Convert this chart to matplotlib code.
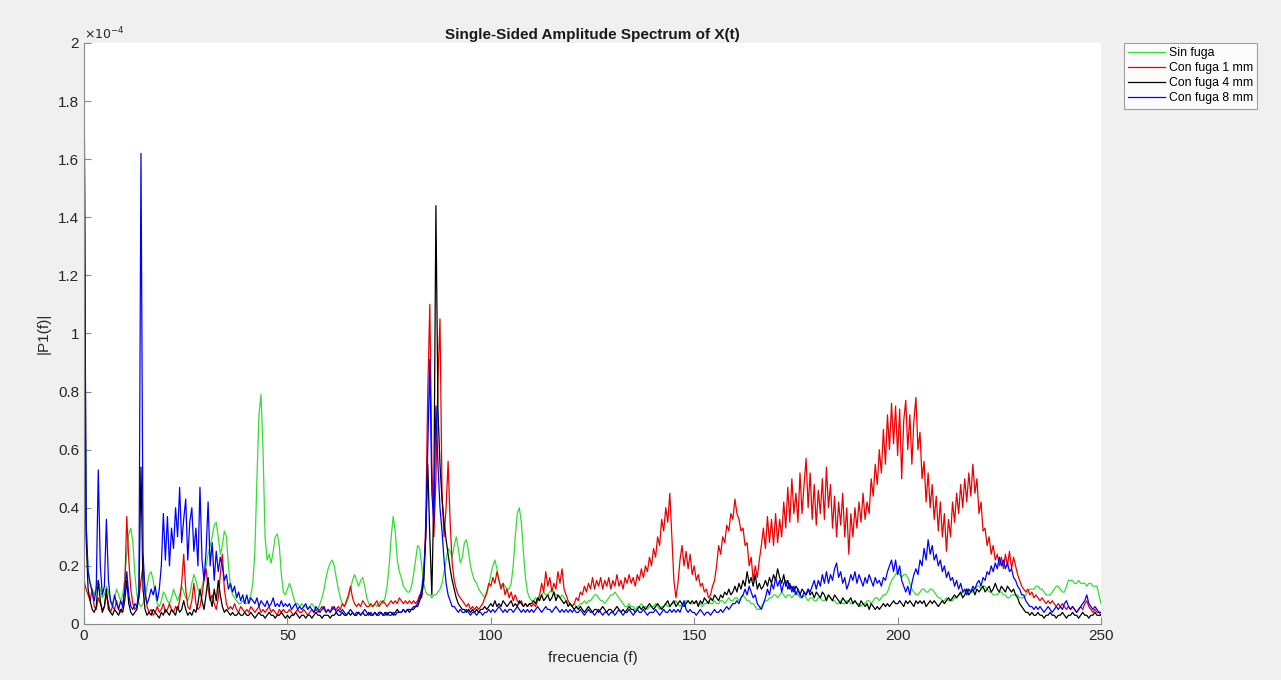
import numpy as np
import matplotlib.pyplot as plt
from matplotlib.ticker import FuncFormatter

plt.rcParams['font.family'] = ['Liberation Sans', 'DejaVu Sans']

### Amplitudes in units of 1e-4, sampled every 0.5 Hz from 0 to 250 Hz (one row = 10 Hz)
sin_fuga = [
    1.2, 0.35, 0.18, 0.14, 0.12, 0.1, 0.13, 0.15, 0.12, 0.09, 0.1, 0.13, 0.11, 0.08, 0.07, 0.09, 0.12, 0.1, 0.08, 0.1,
    0.16, 0.24, 0.31, 0.33, 0.28, 0.17, 0.1, 0.07, 0.06, 0.07, 0.09, 0.13, 0.17, 0.18, 0.15, 0.1, 0.07, 0.06, 0.08, 0.11,
    0.1, 0.08, 0.07, 0.09, 0.12, 0.1, 0.08, 0.1, 0.13, 0.11, 0.09, 0.08, 0.1, 0.14, 0.17, 0.15, 0.12, 0.1, 0.13, 0.16,
    0.2, 0.24, 0.27, 0.3, 0.34, 0.35, 0.3, 0.24, 0.27, 0.32, 0.3, 0.2, 0.13, 0.1, 0.09, 0.08, 0.07, 0.07, 0.08, 0.07,
    0.07, 0.08, 0.1, 0.14, 0.25, 0.5, 0.72, 0.79, 0.6, 0.3, 0.22, 0.24, 0.21, 0.25, 0.3, 0.31, 0.27, 0.17, 0.11, 0.1,
    0.12, 0.14, 0.12, 0.09, 0.07, 0.07, 0.06, 0.07, 0.06, 0.06, 0.05, 0.06, 0.07, 0.06, 0.05, 0.05, 0.07, 0.09, 0.12, 0.16,
    0.19, 0.21, 0.22, 0.2, 0.16, 0.12, 0.09, 0.07, 0.06, 0.07, 0.09, 0.12, 0.15, 0.17, 0.15, 0.13, 0.15, 0.16, 0.13, 0.09,
    0.07, 0.06, 0.06, 0.07, 0.06, 0.07, 0.08, 0.07, 0.09, 0.13, 0.2, 0.3, 0.37, 0.32, 0.22, 0.18, 0.16, 0.13, 0.12, 0.11,
    0.11, 0.13, 0.17, 0.22, 0.27, 0.26, 0.2, 0.14, 0.11, 0.1, 0.1, 0.09, 0.1, 0.1, 0.11, 0.12, 0.14, 0.18, 0.22, 0.26,
    0.25, 0.23, 0.27, 0.3, 0.26, 0.21, 0.23, 0.28, 0.29, 0.25, 0.2, 0.17, 0.15, 0.14, 0.12, 0.11, 0.1, 0.09, 0.1, 0.13,
    0.17, 0.2, 0.22, 0.19, 0.15, 0.13, 0.14, 0.13, 0.12, 0.12, 0.14, 0.2, 0.3, 0.38, 0.4, 0.35, 0.25, 0.16, 0.11, 0.09,
    0.08, 0.08, 0.09, 0.08, 0.09, 0.1, 0.11, 0.1, 0.1, 0.11, 0.12, 0.11, 0.1, 0.1, 0.09, 0.1, 0.09, 0.08, 0.07, 0.07,
    0.06, 0.07, 0.06, 0.06, 0.07, 0.07, 0.08, 0.07, 0.08, 0.08, 0.09, 0.1, 0.1, 0.09, 0.08, 0.08, 0.07, 0.08, 0.09, 0.1,
    0.1, 0.11, 0.1, 0.09, 0.08, 0.07, 0.06, 0.06, 0.07, 0.06, 0.06, 0.05, 0.06, 0.06, 0.07, 0.06, 0.06, 0.05, 0.06, 0.06,
    0.06, 0.07, 0.06, 0.05, 0.06, 0.06, 0.07, 0.06, 0.06, 0.07, 0.07, 0.08, 0.07, 0.06, 0.07, 0.07, 0.08, 0.08, 0.07, 0.07,
    0.07, 0.08, 0.07, 0.07, 0.06, 0.07, 0.07, 0.08, 0.07, 0.07, 0.08, 0.07, 0.07, 0.08, 0.08, 0.07, 0.08, 0.09, 0.08, 0.08,
    0.09, 0.09, 0.08, 0.09, 0.1, 0.09, 0.08, 0.08, 0.07, 0.07, 0.06, 0.05, 0.05, 0.06, 0.07, 0.08, 0.08, 0.09, 0.09, 0.1,
    0.1, 0.09, 0.1, 0.11, 0.1, 0.09, 0.1, 0.1, 0.09, 0.1, 0.11, 0.1, 0.09, 0.09, 0.1, 0.09, 0.08, 0.09, 0.09, 0.08,
    0.08, 0.09, 0.09, 0.08, 0.08, 0.09, 0.1, 0.09, 0.08, 0.08, 0.07, 0.07, 0.08, 0.07, 0.07, 0.08, 0.08, 0.07, 0.07, 0.08,
    0.07, 0.07, 0.06, 0.07, 0.07, 0.08, 0.08, 0.07, 0.08, 0.09, 0.09, 0.08, 0.09, 0.1, 0.1, 0.11, 0.13, 0.15, 0.16, 0.17,
    0.18, 0.17, 0.16, 0.17, 0.17, 0.16, 0.14, 0.12, 0.11, 0.1, 0.1, 0.11, 0.12, 0.12, 0.11, 0.11, 0.12, 0.12, 0.11, 0.1,
    0.09, 0.09, 0.08, 0.08, 0.09, 0.08, 0.08, 0.08, 0.09, 0.09, 0.1, 0.1, 0.11, 0.11, 0.12, 0.12, 0.11, 0.11, 0.12, 0.13,
    0.13, 0.12, 0.13, 0.13, 0.12, 0.11, 0.11, 0.1, 0.1, 0.1, 0.11, 0.11, 0.1, 0.1, 0.09, 0.09, 0.1, 0.1, 0.1, 0.1,
    0.09, 0.09, 0.09, 0.1, 0.11, 0.12, 0.12, 0.12, 0.13, 0.13, 0.12, 0.12, 0.11, 0.1, 0.1, 0.1, 0.11, 0.12, 0.13, 0.13,
    0.12, 0.11, 0.11, 0.13, 0.15, 0.15, 0.15, 0.14, 0.14, 0.15, 0.14, 0.14, 0.14, 0.13, 0.14, 0.14, 0.13, 0.13, 0.13, 0.1,
    0.07,
]

fuga_1mm = [
    0.15, 0.12, 0.1, 0.08, 0.12, 0.06, 0.05, 0.09, 0.07, 0.05, 0.06, 0.1, 0.07, 0.04, 0.06, 0.05, 0.08, 0.05, 0.04, 0.06,
    0.12, 0.37, 0.22, 0.12, 0.07, 0.05, 0.06, 0.09, 0.15, 0.2, 0.12, 0.06, 0.04, 0.05, 0.03, 0.04, 0.06, 0.04, 0.05, 0.07,
    0.04, 0.05, 0.07, 0.05, 0.04, 0.06, 0.05, 0.08, 0.14, 0.24, 0.12, 0.06, 0.05, 0.08, 0.14, 0.07, 0.05, 0.06, 0.1, 0.15,
    0.19, 0.12, 0.08, 0.1, 0.07, 0.05, 0.09, 0.17, 0.24, 0.12, 0.07, 0.05, 0.06, 0.05, 0.07, 0.05, 0.04, 0.06, 0.05, 0.04,
    0.05, 0.04, 0.06, 0.05, 0.04, 0.05, 0.06, 0.04, 0.05, 0.04, 0.05, 0.06, 0.04, 0.05, 0.04, 0.03, 0.05, 0.04, 0.05, 0.04,
    0.04, 0.05, 0.04, 0.03, 0.04, 0.05, 0.04, 0.04, 0.05, 0.04, 0.03, 0.04, 0.05, 0.04, 0.05, 0.04, 0.05, 0.06, 0.05, 0.04,
    0.05, 0.04, 0.06, 0.05, 0.05, 0.06, 0.05, 0.07, 0.06, 0.08, 0.1, 0.13, 0.09, 0.07, 0.06, 0.07, 0.06, 0.08, 0.07, 0.06,
    0.06, 0.07, 0.06, 0.07, 0.08, 0.06, 0.07, 0.08, 0.07, 0.06, 0.07, 0.08, 0.07, 0.08, 0.07, 0.09, 0.08, 0.07, 0.08, 0.07,
    0.08, 0.07, 0.08, 0.07, 0.08, 0.1, 0.09, 0.15, 0.35, 0.8, 1.1, 0.55, 0.3, 0.5, 0.84, 1.05, 0.45, 0.3, 0.4, 0.56,
    0.35, 0.21, 0.15, 0.12, 0.1, 0.09, 0.08, 0.07, 0.06, 0.07, 0.05, 0.06, 0.05, 0.06, 0.05, 0.06, 0.07, 0.09, 0.11, 0.14,
    0.13, 0.16, 0.14, 0.18, 0.15, 0.12, 0.14, 0.1, 0.12, 0.09, 0.11, 0.08, 0.1, 0.08, 0.07, 0.08, 0.06, 0.07, 0.06, 0.07,
    0.06, 0.07, 0.06, 0.08, 0.1, 0.14, 0.11, 0.18, 0.13, 0.16, 0.11, 0.14, 0.12, 0.18, 0.14, 0.19, 0.12, 0.1, 0.08, 0.07,
    0.06, 0.07, 0.09, 0.08, 0.11, 0.1, 0.13, 0.11, 0.14, 0.12, 0.16, 0.12, 0.15, 0.13, 0.16, 0.12, 0.15, 0.13, 0.16, 0.12,
    0.15, 0.13, 0.17, 0.13, 0.15, 0.12, 0.16, 0.14, 0.17, 0.14, 0.16, 0.13, 0.17, 0.15, 0.19, 0.16, 0.2, 0.18, 0.23, 0.2,
    0.26, 0.23, 0.3, 0.27, 0.36, 0.32, 0.4, 0.35, 0.45, 0.3, 0.15, 0.09, 0.14, 0.22, 0.27, 0.2, 0.25, 0.19, 0.24, 0.17,
    0.2, 0.15, 0.17, 0.13, 0.14, 0.11, 0.12, 0.09, 0.1, 0.13, 0.15, 0.2, 0.27, 0.24, 0.3, 0.28, 0.34, 0.32, 0.38, 0.36,
    0.43, 0.38, 0.36, 0.32, 0.33, 0.27, 0.28, 0.2, 0.23, 0.15, 0.2, 0.16, 0.22, 0.27, 0.33, 0.26, 0.37, 0.28, 0.36, 0.27,
    0.38, 0.28, 0.36, 0.3, 0.42, 0.33, 0.47, 0.35, 0.5, 0.38, 0.45, 0.35, 0.52, 0.38, 0.48, 0.57, 0.4, 0.52, 0.36, 0.48,
    0.34, 0.46, 0.38, 0.5, 0.36, 0.54, 0.4, 0.48, 0.33, 0.44, 0.3, 0.42, 0.34, 0.45, 0.3, 0.4, 0.24, 0.38, 0.3, 0.4,
    0.33, 0.42, 0.35, 0.45, 0.36, 0.42, 0.38, 0.5, 0.44, 0.55, 0.48, 0.6, 0.52, 0.67, 0.55, 0.72, 0.6, 0.76, 0.62, 0.75,
    0.58, 0.74, 0.5, 0.7, 0.77, 0.6, 0.72, 0.55, 0.7, 0.78, 0.6, 0.66, 0.5, 0.56, 0.42, 0.52, 0.4, 0.48, 0.36, 0.44,
    0.32, 0.42, 0.3, 0.38, 0.25, 0.36, 0.3, 0.42, 0.35, 0.45, 0.38, 0.48, 0.4, 0.5, 0.42, 0.52, 0.44, 0.55, 0.45, 0.5,
    0.38, 0.42, 0.32, 0.33, 0.27, 0.3, 0.24, 0.27, 0.22, 0.24, 0.2, 0.23, 0.19, 0.24, 0.2, 0.25, 0.19, 0.23, 0.2, 0.17,
    0.15, 0.13, 0.12, 0.11, 0.12, 0.1, 0.11, 0.09, 0.1, 0.09, 0.08, 0.09, 0.08, 0.07, 0.08, 0.07, 0.08, 0.07, 0.06, 0.07,
    0.06, 0.07, 0.06, 0.05, 0.06, 0.05, 0.06, 0.05, 0.04, 0.05, 0.06, 0.05, 0.07, 0.08, 0.06, 0.05, 0.04, 0.05, 0.04, 0.04,
    0.03,
]

fuga_4mm = [
    2.0, 0.3, 0.12, 0.08, 0.05, 0.04, 0.06, 0.15, 0.08, 0.04, 0.06, 0.12, 0.05, 0.04, 0.03, 0.05, 0.04, 0.03, 0.05, 0.04,
    0.08, 0.15, 0.07, 0.04, 0.03, 0.04, 0.05, 0.1, 0.54, 0.12, 0.05, 0.03, 0.04, 0.03, 0.05, 0.04, 0.03, 0.02, 0.04, 0.03,
    0.05, 0.04, 0.03, 0.05, 0.04, 0.03, 0.06, 0.04, 0.05, 0.08, 0.05, 0.03, 0.04, 0.03, 0.05, 0.04, 0.07, 0.12, 0.08, 0.05,
    0.1, 0.16, 0.09, 0.06, 0.12, 0.08, 0.15, 0.1, 0.06, 0.04, 0.05, 0.04, 0.03, 0.04, 0.03, 0.03, 0.04, 0.03, 0.03, 0.04,
    0.03, 0.03, 0.04, 0.03, 0.02, 0.03, 0.04, 0.03, 0.03, 0.02, 0.03, 0.04, 0.03, 0.03, 0.02, 0.03, 0.03, 0.04, 0.03, 0.02,
    0.03, 0.02, 0.03, 0.03, 0.04, 0.03, 0.02, 0.03, 0.03, 0.02, 0.03, 0.03, 0.02, 0.03, 0.04, 0.03, 0.03, 0.02, 0.03, 0.03,
    0.03, 0.02, 0.03, 0.03, 0.04, 0.03, 0.03, 0.04, 0.03, 0.03, 0.04, 0.03, 0.04, 0.03, 0.03, 0.04, 0.03, 0.04, 0.03, 0.03,
    0.04, 0.03, 0.03, 0.04, 0.03, 0.04, 0.04, 0.03, 0.04, 0.03, 0.04, 0.04, 0.03, 0.04, 0.05, 0.04, 0.04, 0.05, 0.04, 0.05,
    0.04, 0.05, 0.05, 0.06, 0.06, 0.08, 0.1, 0.15, 0.3, 0.55, 0.3, 0.1, 0.45, 1.44, 0.74, 0.55, 0.43, 0.35, 0.29, 0.24,
    0.19, 0.15, 0.12, 0.09, 0.07, 0.06, 0.05, 0.05, 0.04, 0.05, 0.04, 0.05, 0.04, 0.05, 0.04, 0.05, 0.05, 0.06, 0.05, 0.06,
    0.07, 0.06, 0.08, 0.06, 0.07, 0.06, 0.08, 0.07, 0.06, 0.07, 0.08, 0.06, 0.07, 0.06, 0.08, 0.07, 0.06, 0.07, 0.06, 0.07,
    0.07, 0.08, 0.07, 0.09, 0.08, 0.1, 0.08, 0.09, 0.1, 0.08, 0.09, 0.11, 0.08, 0.1, 0.09, 0.08, 0.07, 0.08, 0.06, 0.07,
    0.06, 0.05, 0.06, 0.05, 0.06, 0.05, 0.04, 0.05, 0.06, 0.05, 0.04, 0.05, 0.05, 0.04, 0.05, 0.06, 0.05, 0.04, 0.05, 0.05,
    0.04, 0.05, 0.06, 0.05, 0.04, 0.05, 0.04, 0.05, 0.06, 0.05, 0.05, 0.04, 0.05, 0.06, 0.05, 0.06, 0.05, 0.06, 0.07, 0.06,
    0.05, 0.06, 0.07, 0.06, 0.05, 0.06, 0.07, 0.08, 0.06, 0.07, 0.08, 0.06, 0.07, 0.08, 0.07, 0.06, 0.07, 0.08, 0.07, 0.08,
    0.07, 0.08, 0.06, 0.08, 0.07, 0.09, 0.08, 0.07, 0.09, 0.08, 0.1, 0.09, 0.08, 0.1, 0.09, 0.11, 0.1, 0.12, 0.1, 0.11,
    0.13, 0.11, 0.14, 0.12, 0.15, 0.13, 0.18, 0.14, 0.16, 0.13, 0.17, 0.12, 0.14, 0.12, 0.13, 0.15, 0.13, 0.16, 0.14, 0.17,
    0.15, 0.19, 0.16, 0.14, 0.17, 0.13, 0.15, 0.12, 0.13, 0.11, 0.13, 0.12, 0.1, 0.12, 0.11, 0.1, 0.12, 0.1, 0.11, 0.09,
    0.11, 0.1, 0.09, 0.11, 0.1, 0.08, 0.1, 0.09, 0.08, 0.1, 0.09, 0.08, 0.07, 0.09, 0.08, 0.07, 0.08, 0.09, 0.07, 0.08,
    0.07, 0.06, 0.08, 0.07, 0.06, 0.07, 0.05, 0.07, 0.06, 0.05, 0.06, 0.05, 0.06, 0.07, 0.06, 0.07, 0.06, 0.07, 0.08, 0.07,
    0.07, 0.08, 0.07, 0.06, 0.08, 0.07, 0.08, 0.07, 0.06, 0.08, 0.07, 0.08, 0.07, 0.08, 0.06, 0.07, 0.08, 0.07, 0.08, 0.07,
    0.06, 0.07, 0.08, 0.07, 0.08, 0.09, 0.08, 0.09, 0.1, 0.09, 0.1, 0.11, 0.09, 0.1, 0.12, 0.1, 0.11, 0.12, 0.1, 0.12,
    0.11, 0.12, 0.13, 0.11, 0.12, 0.13, 0.11, 0.12, 0.14, 0.12, 0.11, 0.13, 0.12, 0.11, 0.13, 0.12, 0.11, 0.12, 0.1, 0.09,
    0.07, 0.06, 0.05, 0.04, 0.04, 0.03, 0.04, 0.03, 0.03, 0.04, 0.03, 0.03, 0.02, 0.03, 0.03, 0.04, 0.03, 0.03, 0.02, 0.03,
    0.03, 0.04, 0.03, 0.02, 0.03, 0.03, 0.04, 0.03, 0.03, 0.02, 0.03, 0.04, 0.03, 0.03, 0.02, 0.03, 0.03, 0.04, 0.03, 0.03,
    0.03,
]

fuga_8mm = [
    1.86, 0.35, 0.18, 0.14, 0.11, 0.08, 0.12, 0.53, 0.2, 0.1, 0.13, 0.36, 0.15, 0.08, 0.06, 0.1, 0.07, 0.05, 0.08, 0.06,
    0.12, 0.18, 0.1, 0.06, 0.05, 0.07, 0.06, 0.12, 1.62, 0.25, 0.1, 0.07, 0.09, 0.12, 0.1, 0.13, 0.08, 0.12, 0.2, 0.38,
    0.22, 0.37, 0.2, 0.33, 0.26, 0.4, 0.3, 0.47, 0.28, 0.36, 0.43, 0.22, 0.35, 0.4, 0.25, 0.33, 0.2, 0.47, 0.22, 0.15,
    0.25, 0.42, 0.2, 0.28, 0.15, 0.25, 0.18, 0.23, 0.2, 0.15, 0.17, 0.12, 0.14, 0.11, 0.13, 0.09, 0.11, 0.08, 0.1, 0.07,
    0.1, 0.07, 0.09, 0.08, 0.07, 0.09, 0.06, 0.08, 0.07, 0.06, 0.08, 0.06, 0.07, 0.09, 0.06, 0.07, 0.06, 0.08, 0.06, 0.07,
    0.06, 0.07, 0.05, 0.06, 0.07, 0.05, 0.06, 0.05, 0.06, 0.07, 0.05, 0.06, 0.05, 0.04, 0.06, 0.05, 0.04, 0.05, 0.06, 0.04,
    0.05, 0.04, 0.05, 0.06, 0.04, 0.05, 0.04, 0.05, 0.04, 0.03, 0.04, 0.05, 0.04, 0.03, 0.04, 0.04, 0.03, 0.04, 0.05, 0.04,
    0.03, 0.04, 0.03, 0.04, 0.03, 0.03, 0.04, 0.03, 0.03, 0.04, 0.03, 0.03, 0.04, 0.03, 0.04, 0.04, 0.04, 0.05, 0.04, 0.05,
    0.05, 0.05, 0.06, 0.06, 0.07, 0.09, 0.12, 0.18, 0.3, 0.6, 0.91, 0.45, 0.35, 0.75, 0.55, 0.4, 0.32, 0.22, 0.14, 0.1,
    0.08, 0.06, 0.06, 0.05, 0.04, 0.05, 0.04, 0.04, 0.05, 0.04, 0.03, 0.04, 0.04, 0.03, 0.04, 0.04, 0.03, 0.04, 0.04, 0.05,
    0.04, 0.05, 0.04, 0.05, 0.06, 0.05, 0.04, 0.05, 0.04, 0.05, 0.05, 0.04, 0.05, 0.06, 0.05, 0.04, 0.05, 0.04, 0.05, 0.04,
    0.05, 0.04, 0.05, 0.06, 0.05, 0.04, 0.05, 0.06, 0.05, 0.05, 0.04, 0.05, 0.06, 0.05, 0.04, 0.05, 0.04, 0.05, 0.04, 0.05,
    0.04, 0.05, 0.04, 0.04, 0.05, 0.04, 0.03, 0.04, 0.05, 0.04, 0.04, 0.03, 0.04, 0.05, 0.04, 0.03, 0.04, 0.04, 0.03, 0.04,
    0.04, 0.03, 0.04, 0.05, 0.04, 0.03, 0.04, 0.04, 0.05, 0.04, 0.03, 0.04, 0.05, 0.04, 0.04, 0.05, 0.04, 0.03, 0.04, 0.04,
    0.04, 0.05, 0.04, 0.03, 0.04, 0.05, 0.04, 0.04, 0.05, 0.04, 0.05, 0.04, 0.05, 0.04, 0.06, 0.08, 0.05, 0.04, 0.05, 0.04,
    0.04, 0.03, 0.04, 0.05, 0.04, 0.03, 0.04, 0.04, 0.03, 0.04, 0.05, 0.04, 0.04, 0.05, 0.04, 0.05, 0.06, 0.05, 0.06, 0.07,
    0.07, 0.08, 0.07, 0.09, 0.1, 0.12, 0.1, 0.13, 0.11, 0.09, 0.1, 0.07, 0.06, 0.05, 0.07, 0.09, 0.12, 0.1, 0.14, 0.12,
    0.16, 0.13, 0.15, 0.11, 0.14, 0.15, 0.12, 0.14, 0.11, 0.13, 0.1, 0.12, 0.1, 0.09, 0.11, 0.1, 0.12, 0.11, 0.13, 0.15,
    0.12, 0.15, 0.13, 0.17, 0.14, 0.18, 0.14, 0.17, 0.15, 0.19, 0.21, 0.16, 0.18, 0.14, 0.16, 0.12, 0.14, 0.17, 0.15, 0.18,
    0.14, 0.17, 0.15, 0.13, 0.16, 0.14, 0.17, 0.15, 0.13, 0.16, 0.14, 0.15, 0.13, 0.16, 0.15, 0.18, 0.2, 0.22, 0.18, 0.22,
    0.17, 0.2, 0.15, 0.13, 0.11, 0.13, 0.1, 0.14, 0.17, 0.19, 0.17, 0.22, 0.2, 0.26, 0.22, 0.29, 0.24, 0.27, 0.22, 0.24,
    0.2, 0.22, 0.18, 0.2, 0.16, 0.18, 0.15, 0.16, 0.13, 0.15, 0.12, 0.14, 0.11, 0.12, 0.1, 0.12, 0.11, 0.13, 0.12, 0.14,
    0.15, 0.13, 0.16, 0.15, 0.18, 0.17, 0.2, 0.18, 0.21, 0.19, 0.23, 0.2, 0.22, 0.19, 0.21, 0.18, 0.19, 0.16, 0.15, 0.13,
    0.12, 0.1, 0.1, 0.08, 0.07, 0.06, 0.06, 0.05, 0.06, 0.05, 0.06, 0.05, 0.04, 0.05, 0.06, 0.05, 0.04, 0.05, 0.06, 0.05,
    0.06, 0.05, 0.07, 0.08, 0.06, 0.05, 0.06, 0.05, 0.04, 0.05, 0.06, 0.07, 0.08, 0.1, 0.07, 0.06, 0.05, 0.06, 0.05, 0.04,
    0.04,
]

series_labels = ['Sin fuga', 'Con fuga 1 mm', 'Con fuga 4 mm', 'Con fuga 8 mm']
series_colors = ['#33dd33', '#ee0000', '#000000', '#0000ff']

freq = np.arange(0, 250.5, 0.5)

fig = plt.figure(figsize=(12.81, 6.8), dpi=100, facecolor='#f0f0f0')
ax = fig.add_axes([0.0656, 0.0824, 0.7939, 0.8544])

for vals, lab, col in zip([sin_fuga, fuga_1mm, fuga_4mm, fuga_8mm], series_labels, series_colors):
    ax.plot(freq, vals, color=col, linewidth=0.9, label=lab)

ax.set_xlim(0, 250)
ax.set_ylim(0, 2)
ax.set_xticks([0, 50, 100, 150, 200, 250])
ax.set_yticks(np.arange(0, 2.01, 0.2))
ax.yaxis.set_major_formatter(FuncFormatter(lambda v, p: '%g' % round(v, 1)))

### MATLAB look: box off, ticks inside, grey axes
for side in ['top', 'right']:
    ax.spines[side].set_visible(False)
for side in ['left', 'bottom']:
    ax.spines[side].set_color('#8a8a8a')
ax.tick_params(direction='in', length=5, color='#8a8a8a', labelcolor='#262626', labelsize=11)

ax.text(0.0, 1.002, r'$\times10^{-4}$', transform=ax.transAxes, fontsize=9, color='#262626',
        ha='left', va='bottom')
ax.set_title('Single-Sided Amplitude Spectrum of X(t)', fontsize=11, weight='bold', color='#1a1a1a', pad=3)
ax.set_xlabel('frecuencia (f)', fontsize=11, color='#262626', labelpad=6)
ax.set_ylabel('|P1(f)|', fontsize=11, color='#262626', labelpad=5)

leg = fig.legend(loc='upper left', bbox_to_anchor=(0.8775, 0.9368), fontsize=8.8, handlelength=3.0,
                 frameon=True, fancybox=False, borderpad=0.35, labelspacing=0.25, handletextpad=0.3,
                 borderaxespad=0)
leg.get_frame().set_edgecolor('#8a8a8a')
leg.get_frame().set_linewidth(0.8)

plt.savefig('out.png', dpi=100, facecolor=fig.get_facecolor())
plt.close()
